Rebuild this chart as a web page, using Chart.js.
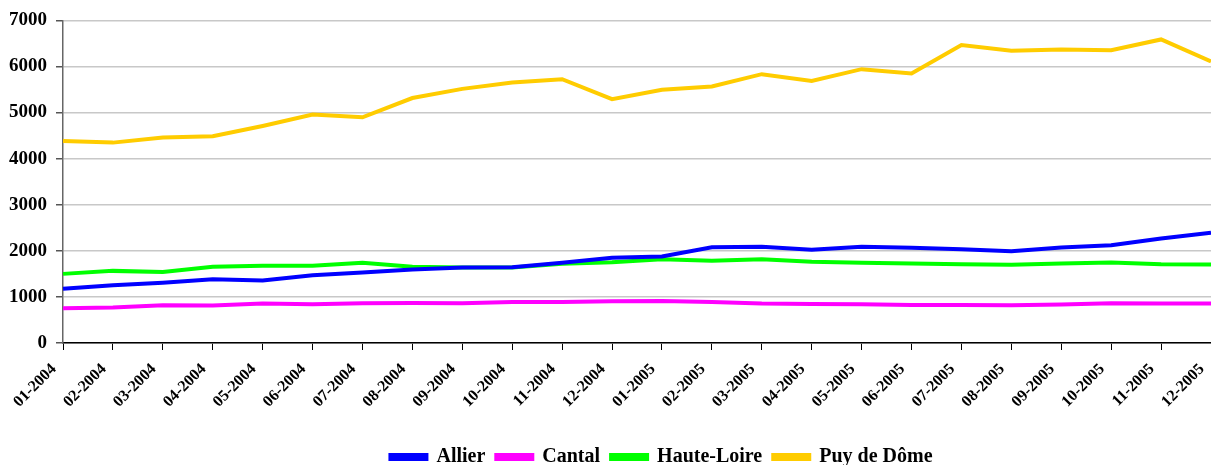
<!DOCTYPE html>
<html lang="fr">
<head>
    <meta charset="UTF-8">
    <title>Evolution mensuelle par département</title>
    <script src="https://cdn.jsdelivr.net/npm/chart.js"></script>
    <style>
        html, body { margin: 0; padding: 0; background: #fff; }
        .chart-container { width: 1211px; height: 465px; }
    </style>
</head>
<body>
    <div class="chart-container">
        <canvas id="deptChart"></canvas>
    </div>

    <script>
        // Mois (01-2004 à 12-2005)
        const mois = ['01-2004', '02-2004', '03-2004', '04-2004', '05-2004', '06-2004',
                      '07-2004', '08-2004', '09-2004', '10-2004', '11-2004', '12-2004',
                      '01-2005', '02-2005', '03-2005', '04-2005', '05-2005', '06-2005',
                      '07-2005', '08-2005', '09-2005', '10-2005', '11-2005', '12-2005'];

        const allier = [1175, 1255, 1310, 1385, 1355, 1470, 1530, 1595, 1640, 1645, 1740, 1848,
                        1877, 2075, 2087, 2025, 2087, 2065, 2036, 1993, 2072, 2123, 2268, 2390];
        const cantal = [755, 768, 819, 812, 855, 841, 862, 870, 862, 891, 891, 906,
                        913, 891, 855, 848, 841, 826, 826, 819, 833, 862, 855, 855];
        const hauteLoire = [1500, 1565, 1543, 1652, 1674, 1674, 1739, 1652, 1638, 1638, 1717, 1754,
                            1819, 1783, 1819, 1765, 1739, 1725, 1710, 1696, 1725, 1746, 1710, 1703];
        const puyDeDome = [4383, 4348, 4457, 4485, 4710, 4957, 4898, 5315, 5514, 5652, 5725, 5290,
                           5493, 5565, 5833, 5685, 5942, 5848, 6464, 6341, 6370, 6355, 6587, 6109];

        const yTicks = [0, 1000, 2000, 3000, 4000, 5000, 6000, 7000];

        const police = 'Liberation Serif';

        function serie(label, data, couleur) {
            return {
                label: label,
                data: data,
                borderColor: couleur,
                backgroundColor: couleur,
                borderWidth: 4,
                pointRadius: 0,
                tension: 0
            };
        }

        // la légende n'est pas centrée sur le canvas dans l'original : on la décale
        const decalageLegende = {
            id: 'decalageLegende',
            afterLayout(chart) {
                chart.legend.left += 56;
                chart.legend.right += 56;
            }
        };

        new Chart(document.getElementById('deptChart'), {
            type: 'line',
            data: {
                labels: mois,
                datasets: [
                    serie('Allier', allier, '#0000ff'),
                    serie('Cantal', cantal, '#ff00ff'),
                    serie('Haute-Loire', hauteLoire, '#00ff00'),
                    serie('Puy de Dôme', puyDeDome, '#ffcc00')
                ]
            },
            plugins: [decalageLegende],
            options: {
                responsive: true,
                maintainAspectRatio: false,
                animation: false,
                layout: { padding: { top: 11, left: 0, right: 0, bottom: -12 } },
                plugins: {
                    tooltip: { enabled: false },
                    legend: {
                        position: 'bottom',
                        labels: {
                            boxWidth: 36,
                            boxHeight: 4,
                            padding: 11,
                            color: '#000',
                            font: { family: police, size: 20, weight: 'bold' }
                        }
                    }
                },
                scales: {
                    x: {
                        offset: false,
                        afterFit: s => { s.paddingRight = 0; s.height = 93; },
                        grid: {
                            drawOnChartArea: false,
                            tickLength: 7,
                            tickColor: '#000'
                        },
                        border: { color: '#000', width: 1.5 },
                        ticks: {
                            minRotation: 45,
                            maxRotation: 45,
                            autoSkip: false,
                            padding: 10,
                            labelOffset: -9,
                            color: '#000',
                            font: { family: police, size: 16, weight: 'bold' }
                        }
                    },
                    y: {
                        min: 0,
                        max: 7000,
                        afterBuildTicks: s => { s.ticks = yTicks.map(v => ({ value: v })); },
                        grid: {
                            color: '#c8c8c8',
                            lineWidth: 1.5,
                            tickLength: 7,
                            tickColor: '#555'
                        },
                        border: { color: '#666', width: 1.5 },
                        ticks: {
                            padding: 9,
                            color: '#000',
                            font: { family: police, size: 19, weight: 'bold' },
                            callback: v => String(v)
                        }
                    }
                }
            }
        });
    </script>
</body>
</html>
